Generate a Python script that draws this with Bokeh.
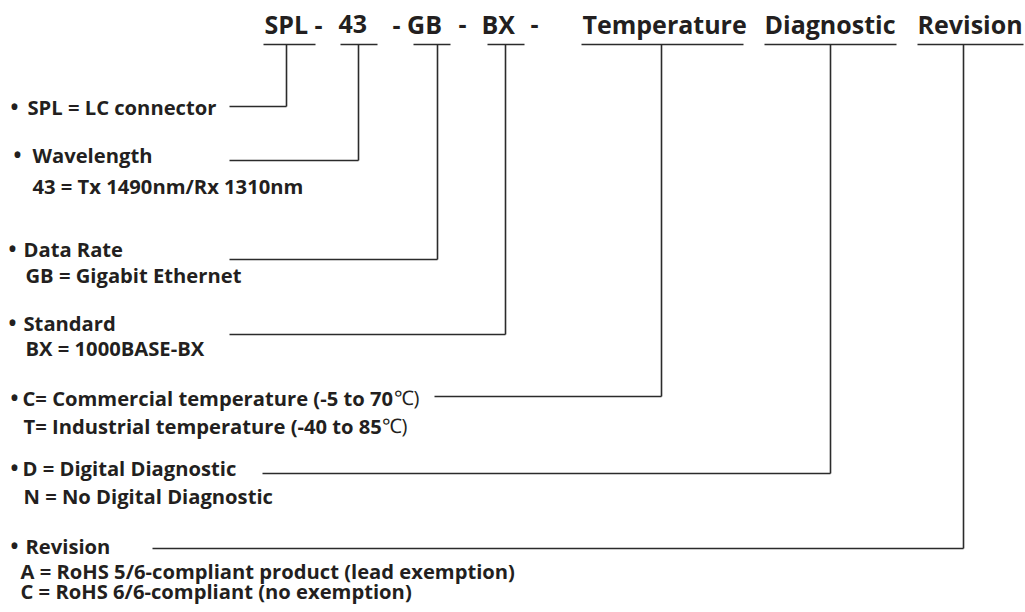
from bokeh.plotting import figure
from bokeh.models import Range1d
from bokeh.core.properties import value
from bokeh.embed import file_html
from bokeh.resources import INLINE

# ---- content ----
code_parts = ["SPL -", "43", "- GB", "-", "BX", "-", "Temperature", "Diagnostic", "Revision"]
code_x = [264, 338, 392, 458, 481, 530, 582, 764, 917]

# connectors: underline start/end, vertical x, leader y, leader start x
ul_x0 = [263, 340, 413, 487, 581, 764, 917]
ul_x1 = [315, 377, 450, 524, 743, 896, 1023]
vert_x = [286, 358, 437, 505, 661, 830, 963]
lead_y = [106, 160, 259, 334, 396, 473, 548]
lead_x0 = [229, 229, 229, 229, 434, 262, 152]

bullet_x = [10, 13, 8, 8, 10, 10, 10]
bullet_y = [114, 162, 256, 330, 405, 475, 553]

desc_text = [
    "SPL = LC connector",
    "Wavelength",
    "43 = Tx 1490nm/Rx 1310nm",
    "Data Rate",
    "GB = Gigabit Ethernet",
    "Standard",
    "BX = 1000BASE-BX",
    "C= Commercial temperature (-5 to 70",
    "T= Industrial temperature (-40 to 85",
    "D = Digital Diagnostic",
    "N = No Digital Diagnostic",
    "Revision",
    "A = RoHS 5/6-compliant product (lead exemption)",
    "C = RoHS 6/6-compliant (no exemption)",
]
desc_x = [27, 32, 32, 23, 25, 23, 25, 22, 23, 22, 23, 25, 20, 20]
desc_y = [114, 162, 193, 256, 282, 330, 355, 405, 433, 475, 503, 553, 578, 598]

unit_text = ["℃)", "℃)"]
unit_x = [393, 381]
unit_y = [405, 433]

W, H = 1025, 612
p = figure(width=W, height=H, output_backend="svg", toolbar_location=None,
           x_range=Range1d(0, W), y_range=Range1d(H, 0),
           min_border=0)
p.axis.visible = False
p.grid.visible = False
p.outline_line_color = None
p.background_fill_color = "white"

TXT = "#231f20"
LINE = "#2b2b2b"
FONT = value("Open Sans")

# baseline correction (the renderer's "alphabetic" baseline sits ~0.4em low)
TOP_DY = -10
DESC_DY = -8

# top code text
p.text(x=code_x, y=[33 + TOP_DY] * len(code_x), text=code_parts, text_font=FONT,
       text_font_size="25px", text_font_style="bold", text_color=TXT,
       text_align="left", text_baseline="alphabetic")

# connectors
p.segment(x0=ul_x0, y0=[44] * 7, x1=ul_x1, y1=[44] * 7, line_color=LINE, line_width=1.6)
p.segment(x0=vert_x, y0=[44] * 7, x1=vert_x, y1=lead_y, line_color=LINE, line_width=1.6)
p.segment(x0=lead_x0, y0=lead_y, x1=vert_x, y1=lead_y, line_color=LINE, line_width=1.6)

# bullets
p.text(x=bullet_x, y=[b + DESC_DY for b in bullet_y], text=["•"] * len(bullet_x), text_font=FONT,
       text_font_size="21px", text_font_style="bold", text_color=TXT,
       text_align="left", text_baseline="alphabetic")

# description text
p.text(x=desc_x, y=[d + DESC_DY for d in desc_y], text=desc_text, text_font=FONT,
       text_font_size="20.2px", text_font_style="bold", text_color=TXT,
       text_align="left", text_baseline="alphabetic")

p.text(x=unit_x, y=[u + DESC_DY for u in unit_y], text=unit_text, text_font=FONT,
       text_font_size="20px", text_font_style="normal", text_color=TXT,
       text_align="left", text_baseline="alphabetic")

open("out.html", "w").write(file_html(p, INLINE))
